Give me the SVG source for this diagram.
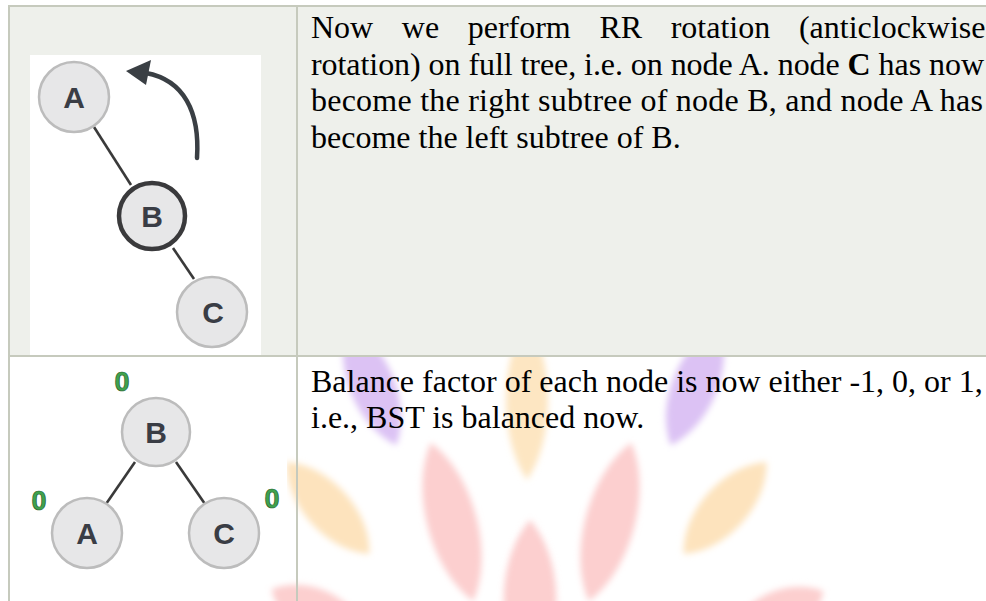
<svg xmlns="http://www.w3.org/2000/svg" width="986" height="601" viewBox="0 0 986 601">
<style>
.cell-top{fill:#eef0eb}
.grid{stroke:#c6cabd;stroke-width:2;fill:none}
.node{fill:#e7e7e8;stroke:#bcbcbc;stroke-width:2.5}
.node-hl{fill:#e7e7e8;stroke:#3a3a3c;stroke-width:4.5}
.lbl{font-family:"Liberation Sans",Arial,sans-serif;font-weight:bold;font-size:30px;fill:#3a3d45;text-anchor:middle}
.bf{font-family:"Liberation Sans",Arial,sans-serif;font-weight:bold;font-size:27px;fill:#3fa24e;stroke:#1f5e2a;stroke-width:0.7;text-anchor:middle}
.edge{stroke:#3a3a3a;stroke-width:2.6;fill:none}
.txt{font-family:"Liberation Serif","Times New Roman",serif;font-size:32px;fill:#000}
.petal{filter:url(#soft)}
</style>
<defs>
<filter id="soft" x="-50%" y="-50%" width="200%" height="200%"><feGaussianBlur stdDeviation="3"/></filter>
</defs>
<rect x="0" y="0" width="986" height="601" fill="#ffffff"/>
<!-- watermark petals in bottom row -->
<g id="watermark">
<path class="petal" fill="#dcc2f4" d="M0,-65 C30,-32 30,32 0,65 C-30,32 -30,-32 0,-65Z" transform="translate(372,385) rotate(-22)"/>
<path class="petal" fill="#dcc2f4" d="M0,-65 C30,-32 30,32 0,65 C-30,32 -30,-32 0,-65Z" transform="translate(695,385) rotate(22)"/>
<path class="petal" fill="#fde6c2" d="M0,-80 C28,-40 28,40 0,80 C-28,40 -28,-40 0,-80Z" transform="translate(527,400)"/>
<path class="petal" fill="#fccfcf" d="M0,-82 C33,-41 33,41 0,82 C-33,41 -33,-41 0,-82Z" transform="translate(452,522) rotate(-15)"/>
<path class="petal" fill="#fccfcf" d="M0,-82 C33,-41 33,41 0,82 C-33,41 -33,-41 0,-82Z" transform="translate(610,522) rotate(15)"/>
<path class="petal" fill="#fccfcf" d="M0,-80 C35,-40 35,40 0,80 C-35,40 -35,-40 0,-80Z" transform="translate(530,600)"/>
<path class="petal" fill="#fde3bd" d="M0,-62 C30,-31 30,31 0,62 C-30,31 -30,-31 0,-62Z" transform="translate(328,508) rotate(-42)"/>
<path class="petal" fill="#fde3bd" d="M0,-62 C30,-31 30,31 0,62 C-30,31 -30,-31 0,-62Z" transform="translate(725,508) rotate(42)"/>
<path class="petal" fill="#fccfcf" d="M0,-55 C32,-27 32,27 0,55 C-32,27 -32,-27 0,-55Z" transform="translate(320,615) rotate(-62)"/>
<path class="petal" fill="#fccfcf" d="M0,-55 C32,-27 32,27 0,55 C-32,27 -32,-27 0,-55Z" transform="translate(775,617) rotate(62)"/>
</g>
<!-- table -->
<rect class="cell-top" x="10" y="7" width="976" height="348"/>
<rect x="30" y="55" width="231" height="300" fill="#ffffff"/>
<rect x="23" y="358" width="264" height="222" fill="#ffffff"/>
<g id="grid">
<line class="grid" x1="8" y1="6" x2="986" y2="6" stroke-width="1.5"/>
<line class="grid" x1="9" y1="6" x2="9" y2="601"/>
<line class="grid" x1="297" y1="6" x2="297" y2="601"/>
<line class="grid" x1="8" y1="356" x2="986" y2="356"/>
</g>
<!-- connectors -->
<g id="connectors">
<line class="edge" x1="94" y1="127" x2="131" y2="185"/>
<line class="edge" x1="173" y1="248" x2="194" y2="279"/>
<line class="edge" x1="135" y1="462" x2="106" y2="504"/>
<line class="edge" x1="176" y1="462" x2="205" y2="504"/>
<path d="M197,158 C200,112 184,80 146,73" stroke="#3a3f44" stroke-width="4.5" fill="none" stroke-linecap="round"/>
<polygon points="126,71 151,60 146,85" fill="#3a3f44"/>
</g>
<!-- top tree nodes -->
<g id="node-A1"><circle class="node" cx="74" cy="97" r="35"/><text class="lbl" x="74" y="108">A</text></g>
<g id="node-B1"><circle class="node-hl" cx="152" cy="216" r="33"/><text class="lbl" x="152" y="227">B</text></g>
<g id="node-C1"><circle class="node" cx="212" cy="312" r="35"/><text class="lbl" x="213" y="323">C</text></g>
<!-- bottom tree nodes -->
<g id="node-B2"><circle class="node" cx="156" cy="432" r="34"/><text class="lbl" x="156" y="443">B</text><text class="bf" x="122" y="391">0</text></g>
<g id="node-A2"><circle class="node" cx="87" cy="533" r="35"/><text class="lbl" x="87" y="544">A</text><text class="bf" x="39" y="510">0</text></g>
<g id="node-C2"><circle class="node" cx="224" cy="533" r="35"/><text class="lbl" x="224" y="544">C</text><text class="bf" x="272" y="508">0</text></g>
<!-- descriptions -->
<g id="desc-top" class="txt">
<text x="311" y="38">Now</text>
<text x="401.8" y="38">we</text>
<text x="467.7" y="38">perform</text>
<text x="599.4" y="38">RR</text>
<text x="670.7" y="38">rotation</text>
<text x="798.9" y="38">(anticlockwise</text>
<text x="311" y="74.5" textLength="673" lengthAdjust="spacing">rotation) on full tree, i.e. on node A. node <tspan font-weight="bold">C</tspan> has now</text>
<text x="311" y="111" textLength="672" lengthAdjust="spacing">become the right subtree of node B, and node A has</text>
<text x="311" y="147.5">become the left subtree of B.</text>
</g>
<g id="desc-bottom" class="txt">
<text x="311" y="391.5">Balance factor of each node is now either -1, 0, or 1,</text>
<text x="311" y="428">i.e., BST is balanced now.</text>
</g>
</svg>
